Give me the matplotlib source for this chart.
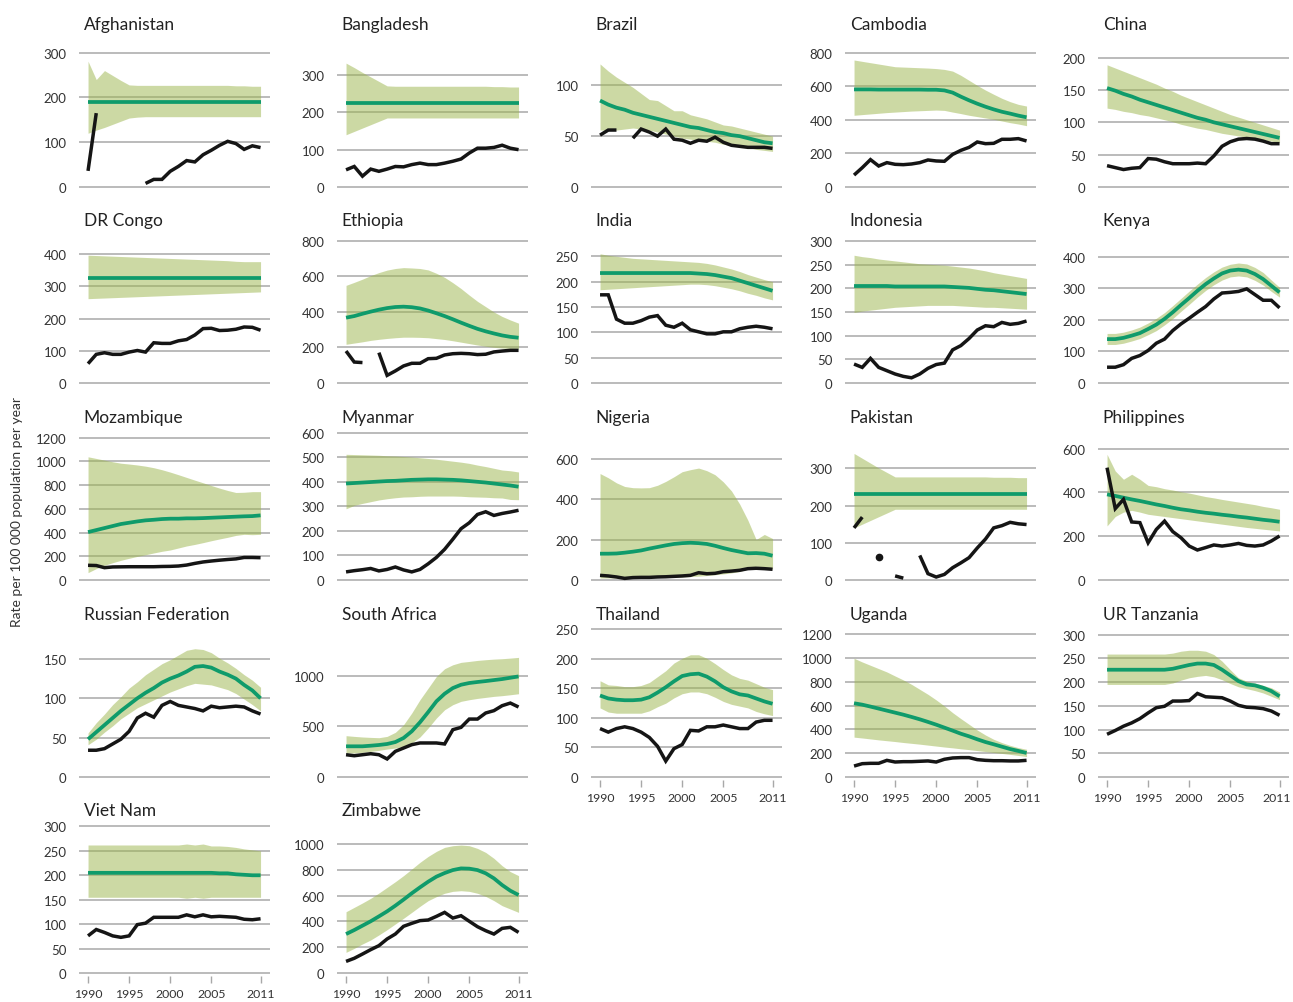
import numpy as np
import matplotlib.pyplot as plt
from matplotlib.transforms import ScaledTranslation

plt.rcParams["font.family"] = ["Lato", "DejaVu Sans"]

# ------------------------------------------------------------
# Data (rate per 100 000 population per year), 1990-2011
# ------------------------------------------------------------
YEARS = np.arange(1990, 2012)
XTICKS = [1990, 1995, 2000, 2005, 2011]
nan = np.nan

COUNTRIES = [
    "Afghanistan", "Bangladesh", "Brazil", "Cambodia", "China",
    "DR Congo", "Ethiopia", "India", "Indonesia", "Kenya",
    "Mozambique", "Myanmar", "Nigeria", "Pakistan", "Philippines",
    "Russian Federation", "South Africa", "Thailand", "Uganda", "UR Tanzania",
    "Viet Nam", "Zimbabwe",
]

# estimated incidence (green line)
EST = {
    "Afghanistan": [190] * 22,
    "Bangladesh": [225] * 22,
    "Brazil": [85, 81, 78, 76, 73, 71, 69, 67, 65, 63, 61, 59, 58, 56, 54, 53, 51, 50, 48, 46, 44, 43],
    "Cambodia": [581, 581, 581, 580, 580, 580, 580, 580, 580, 579, 579, 575, 562, 538, 516, 496, 478, 462, 448, 437, 425, 415],
    "China": [153, 149, 144, 140, 135, 131, 127, 123, 119, 115, 111, 107, 104, 100, 97, 94, 91, 88, 85, 82, 79, 76],
    "DR Congo": [327] * 22,
    "Ethiopia": [368, 377, 390, 402, 413, 422, 428, 430, 427, 420, 408, 393, 377, 359, 340, 322, 305, 291, 279, 268, 260, 255],
    "India": [217] * 12 + [216, 215, 213, 210, 207, 202, 197, 192, 187, 182],
    "Indonesia": [205, 205, 205, 205, 205, 204, 204, 204, 204, 204, 204, 204, 203, 202, 201, 199, 197, 196, 194, 192, 190, 188],
    "Kenya": [139, 139, 143, 150, 158, 171, 185, 203, 224, 247, 269, 292, 313, 331, 347, 356, 359, 356, 345, 329, 308, 287],
    "Mozambique": [404, 421, 438, 455, 472, 483, 494, 503, 508, 514, 517, 517, 520, 520, 522, 525, 528, 531, 534, 537, 539, 545],
    "Myanmar": [393, 395, 397, 399, 401, 403, 404, 406, 408, 409, 410, 410, 409, 408, 406, 403, 400, 397, 393, 389, 385, 380],
    "Nigeria": [130, 130, 131, 135, 140, 146, 155, 163, 171, 178, 182, 184, 182, 178, 169, 158, 148, 140, 132, 133, 130, 120],
    "Pakistan": [231] * 22,
    "Philippines": [391, 384, 376, 368, 361, 353, 345, 338, 330, 323, 318, 312, 307, 303, 298, 294, 289, 285, 280, 275, 271, 266],
    "Russian Federation": [48, 57, 66, 75, 84, 92, 100, 107, 113, 120, 125, 129, 134, 140, 141, 139, 134, 130, 125, 117, 110, 100],
    "South Africa": [303, 303, 303, 309, 316, 326, 345, 385, 451, 540, 641, 747, 822, 878, 911, 928, 938, 947, 957, 967, 980, 993],
    "Thailand": [138, 133, 131, 130, 130, 131, 135, 143, 152, 162, 171, 174, 175, 170, 162, 152, 145, 140, 138, 133, 128, 124],
    "Uganda": [620, 608, 592, 575, 558, 541, 524, 505, 485, 463, 440, 415, 390, 364, 342, 317, 294, 275, 255, 235, 219, 202],
    "UR Tanzania": [226] * 8 + [228, 232, 236, 239, 239, 236, 226, 214, 202, 195, 193, 188, 181, 170],
    "Viet Nam": [205] * 16 + [204, 204, 202, 201, 200, 200],
    "Zimbabwe": [302, 333, 367, 401, 439, 478, 522, 569, 618, 664, 708, 747, 775, 798, 811, 809, 798, 773, 734, 682, 638, 605],
}

# uncertainty band, lower bound
LO = {
    "Afghanistan": [120, 127, 133, 140, 147, 154, 156] + [157] * 15,
    "Bangladesh": [140, 149, 158, 167, 176] + [185] * 17,
    "Brazil": [56, 56, 56, 57, 58, 57, 56, 54, 52, 50, 48, 47, 46, 45, 44, 42, 41, 40, 39, 37, 36, 35],
    "Cambodia": [427, 431, 435, 439, 443, 446, 449, 452, 454, 456, 458, 456, 446, 437, 427, 419, 411, 403, 393, 383, 375, 365],
    "China": [122, 120, 117, 115, 112, 110, 107, 104, 101, 97, 94, 91, 89, 86, 83, 81, 79, 77, 75, 73, 71, 69],
    "DR Congo": [262, 263, 264, 265, 266, 267, 268, 269, 270, 271, 272, 273, 274, 275, 276, 277, 278, 279, 280, 281, 282, 283],
    "Ethiopia": [218, 225, 232, 240, 246, 251, 255, 258, 258, 257, 255, 250, 245, 238, 230, 222, 214, 207, 201, 197, 194, 192],
    "India": [184, 185, 186, 187, 188, 189, 190, 191, 192, 193, 194, 195, 195, 194, 192, 189, 186, 182, 177, 173, 168, 164],
    "Indonesia": [149, 152, 154, 156, 158, 160, 161, 162, 163, 164, 164, 164, 164, 163, 162, 161, 160, 160, 159, 158, 157, 156],
    "Kenya": [122, 122, 126, 133, 141, 153, 166, 184, 204, 227, 249, 272, 293, 311, 326, 336, 339, 336, 325, 310, 290, 272],
    "Mozambique": [62, 96, 124, 146, 166, 183, 199, 213, 228, 242, 253, 270, 287, 300, 315, 331, 346, 360, 376, 385, 382, 385],
    "Myanmar": [290, 304, 312, 319, 326, 331, 335, 338, 339, 341, 342, 342, 342, 342, 341, 339, 338, 337, 335, 334, 328, 327],
    "Nigeria": [10, 10, 10, 10, 10, 10, 11, 12, 13, 14, 15, 17, 19, 22, 26, 30, 35, 42, 55, 68, 62, 55],
    "Pakistan": [140, 150, 160, 170, 180] + [190] * 17,
    "Philippines": [247, 290, 310, 318, 310, 300, 295, 290, 285, 280, 275, 270, 265, 260, 255, 250, 245, 240, 236, 232, 228, 224],
    "Russian Federation": [41, 48, 57, 65, 74, 81, 88, 93, 98, 103, 108, 112, 116, 119, 118, 117, 114, 111, 106, 99, 92, 84],
    "South Africa": [237, 237, 243, 253, 263, 276, 286, 303, 336, 395, 484, 582, 664, 714, 747, 763, 776, 786, 796, 803, 812, 822],
    "Thailand": [117, 110, 108, 108, 108, 108, 112, 119, 125, 134, 141, 144, 144, 141, 135, 128, 123, 120, 117, 111, 107, 104],
    "Uganda": [335, 328, 320, 312, 305, 298, 290, 283, 276, 268, 260, 252, 245, 237, 230, 222, 214, 206, 198, 190, 181, 172],
    "UR Tanzania": [195] * 8 + [198, 204, 209, 212, 214, 211, 205, 197, 190, 186, 182, 177, 170, 163],
    "Viet Nam": [155] * 12 + [153, 155, 153, 155, 155, 155, 155, 155, 155, 155],
    "Zimbabwe": [160, 191, 225, 256, 295, 336, 380, 424, 470, 517, 561, 592, 618, 633, 638, 633, 618, 594, 561, 522, 496, 470],
}

# uncertainty band, upper bound
HI = {
    "Afghanistan": [281, 240, 260, 249, 238, 228, 227, 227, 227, 227, 227, 227, 227, 227, 227, 227, 227, 227, 226, 226, 225, 225],
    "Bangladesh": [332, 320, 307, 295, 283, 271, 270, 270, 270, 270, 270, 270, 270, 270, 270, 270, 270, 270, 269, 269, 268, 268],
    "Brazil": [121, 114, 108, 103, 98, 92, 86, 85, 80, 75, 75, 71, 69, 67, 64, 61, 60, 58, 56, 54, 52, 50],
    "Cambodia": [756, 748, 740, 732, 724, 716, 714, 712, 710, 708, 705, 700, 690, 665, 635, 605, 577, 552, 528, 508, 492, 482],
    "China": [189, 184, 179, 174, 169, 164, 159, 153, 148, 142, 137, 132, 127, 122, 117, 112, 108, 104, 100, 96, 92, 88],
    "DR Congo": [397, 396, 395, 394, 393, 392, 391, 390, 389, 388, 387, 386, 385, 384, 383, 382, 381, 380, 378, 377, 377, 377],
    "Ethiopia": [550, 567, 585, 605, 622, 636, 645, 650, 648, 645, 637, 618, 595, 565, 532, 495, 460, 430, 400, 375, 355, 337],
    "India": [255, 252, 250, 248, 246, 245, 244, 243, 242, 241, 240, 239, 238, 236, 233, 229, 225, 220, 214, 209, 204, 200],
    "Indonesia": [270, 267, 265, 262, 260, 258, 256, 254, 252, 251, 250, 249, 247, 245, 243, 240, 237, 233, 230, 227, 224, 221],
    "Kenya": [157, 157, 161, 168, 177, 190, 205, 223, 245, 268, 291, 313, 334, 352, 367, 376, 380, 377, 366, 350, 326, 303],
    "Mozambique": [1039, 1025, 1011, 997, 985, 978, 970, 960, 947, 930, 910, 888, 865, 842, 820, 797, 775, 755, 738, 740, 745, 745],
    "Myanmar": [512, 511, 510, 509, 508, 506, 505, 503, 501, 498, 495, 492, 488, 484, 480, 475, 468, 462, 455, 448, 445, 440],
    "Nigeria": [526, 505, 480, 462, 456, 455, 456, 468, 487, 510, 535, 545, 553, 540, 520, 485, 440, 375, 295, 200, 225, 205],
    "Pakistan": [340, 327, 314, 301, 289] + [277] * 12 + [276, 276, 276, 275, 275],
    "Philippines": [574, 498, 460, 483, 460, 432, 426, 417, 411, 403, 397, 389, 381, 375, 368, 362, 356, 350, 344, 336, 330, 323],
    "Russian Federation": [56, 69, 80, 92, 102, 113, 121, 130, 137, 144, 149, 155, 161, 163, 162, 158, 151, 145, 138, 130, 123, 114],
    "South Africa": [408, 401, 395, 391, 388, 401, 441, 516, 632, 763, 878, 993, 1069, 1108, 1132, 1141, 1151, 1158, 1164, 1168, 1174, 1181],
    "Thailand": [163, 156, 155, 153, 153, 155, 160, 170, 180, 193, 201, 207, 207, 201, 192, 182, 173, 167, 164, 158, 152, 148],
    "Uganda": [998, 967, 939, 911, 883, 849, 816, 779, 737, 695, 648, 597, 541, 491, 443, 395, 353, 317, 289, 266, 247, 233],
    "UR Tanzania": [259] * 8 + [261, 265, 267, 267, 265, 258, 244, 226, 209, 202, 198, 193, 188, 179],
    "Viet Nam": [262] * 12 + [264, 262, 264, 260, 260, 259, 257, 254, 252, 250],
    "Zimbabwe": [475, 509, 543, 579, 620, 664, 708, 755, 806, 858, 904, 943, 974, 987, 992, 987, 966, 935, 889, 832, 786, 755],
}

# case notifications (black line), nan = no data
NOTIF = {
    "Afghanistan": [36, 165, nan, nan, nan, nan, nan, 8, 17, 17, 35, 46, 59, 56, 72, 82, 93, 102, 97, 84, 92, 88],
    "Bangladesh": [46, 55, 29, 48, 42, 48, 55, 54, 60, 64, 60, 60, 64, 69, 75, 91, 104, 104, 106, 112, 104, 100],
    "Brazil": [51, 56, 56, nan, 48, 57, 54, 50, 57, 47, 46, 43, 46, 45, 49, 44, 41, 40, 39, 39, 39, 38],
    "Cambodia": [71, 115, 163, 125, 145, 135, 133, 137, 145, 161, 155, 153, 194, 218, 236, 268, 258, 260, 284, 284, 288, 274],
    "China": [33, 30, 27, 29, 30, 44, 43, 39, 36, 36, 36, 37, 36, 48, 63, 70, 74, 75, 74, 71, 67, 67],
    "DR Congo": [60, 89, 94, 89, 89, 96, 101, 96, 125, 123, 123, 131, 135, 149, 169, 170, 163, 164, 167, 174, 173, 164],
    "Ethiopia": [180, 118, 115, nan, 171, 43, 68, 96, 111, 111, 137, 139, 158, 165, 167, 165, 160, 162, 175, 180, 184, 184],
    "India": [174, 174, 126, 118, 118, 123, 130, 133, 114, 110, 118, 105, 101, 97, 97, 101, 101, 107, 110, 112, 110, 107],
    "Indonesia": [40, 33, 52, 33, 26, 19, 14, 11, 19, 31, 39, 42, 70, 79, 94, 112, 121, 119, 128, 124, 126, 131],
    "Kenya": [50, 50, 58, 78, 87, 103, 126, 139, 166, 187, 205, 224, 242, 266, 285, 287, 290, 298, 280, 262, 262, 238],
    "Mozambique": [124, 122, 104, 110, 111, 112, 112, 112, 112, 114, 115, 118, 126, 140, 152, 160, 167, 173, 178, 190, 190, 188],
    "Myanmar": [33, 38, 42, 47, 37, 43, 53, 41, 33, 43, 66, 92, 125, 166, 209, 233, 267, 278, 263, 271, 277, 284],
    "Nigeria": [23, 20, 15, 8, 12, 13, 13, 15, 16, 18, 20, 23, 36, 31, 33, 41, 44, 48, 56, 58, 56, 53],
    "Pakistan": [140, 169, nan, 61, nan, 11, 5, nan, 66, 17, 8, 15, 33, 46, 60, 86, 110, 140, 146, 155, 151, 149],
    "Philippines": [513, 326, 368, 265, 262, 170, 231, 269, 221, 193, 155, 137, 148, 160, 155, 160, 167, 158, 155, 160, 178, 201],
    "Russian Federation": [34, 34, 36, 42, 48, 58, 75, 81, 76, 91, 96, 91, 89, 87, 84, 90, 88, 89, 90, 89, 84, 80],
    "South Africa": [220, 210, 220, 230, 220, 178, 253, 286, 319, 336, 336, 336, 326, 467, 490, 572, 572, 632, 655, 704, 730, 691],
    "Thailand": [82, 76, 82, 85, 82, 76, 67, 52, 27, 48, 55, 79, 78, 85, 85, 88, 85, 82, 82, 93, 96, 96],
    "Uganda": [92, 112, 115, 115, 140, 126, 129, 129, 132, 135, 126, 149, 160, 163, 163, 146, 140, 137, 137, 135, 135, 140],
    "UR Tanzania": [90, 98, 107, 114, 123, 135, 146, 149, 160, 160, 161, 176, 169, 168, 167, 160, 151, 147, 146, 144, 139, 130],
    "Viet Nam": [76, 89, 83, 76, 73, 76, 99, 102, 114, 114, 114, 114, 119, 115, 119, 115, 116, 115, 114, 110, 109, 111],
    "Zimbabwe": [90, 114, 147, 181, 212, 264, 302, 362, 385, 406, 411, 439, 470, 426, 444, 401, 359, 328, 302, 346, 354, 315],
}

YTICKS = {
    "Afghanistan": [0, 100, 200, 300],
    "Bangladesh": [0, 100, 200, 300],
    "Brazil": [0, 50, 100],
    "Cambodia": [0, 200, 400, 600, 800],
    "China": [0, 50, 100, 150, 200],
    "DR Congo": [0, 100, 200, 300, 400],
    "Ethiopia": [0, 200, 400, 600, 800],
    "India": [0, 50, 100, 150, 200, 250],
    "Indonesia": [0, 50, 100, 150, 200, 250, 300],
    "Kenya": [0, 100, 200, 300, 400],
    "Mozambique": [0, 200, 400, 600, 800, 1000, 1200],
    "Myanmar": [0, 100, 200, 300, 400, 500, 600],
    "Nigeria": [0, 200, 400, 600],
    "Pakistan": [0, 100, 200, 300],
    "Philippines": [0, 200, 400, 600],
    "Russian Federation": [0, 50, 100, 150],
    "South Africa": [0, 500, 1000],
    "Thailand": [0, 50, 100, 150, 200, 250],
    "Uganda": [0, 200, 400, 600, 800, 1000, 1200],
    "UR Tanzania": [0, 50, 100, 150, 200, 250, 300],
    "Viet Nam": [0, 50, 100, 150, 200, 250, 300],
    "Zimbabwe": [0, 200, 400, 600, 800, 1000],
}

# value at the top of a 150 px high panel (sets each panel's y scale)
YMAX = {
    "Afghanistan": 335, "Bangladesh": 402, "Brazil": 147.5, "Cambodia": 893, "China": 232,
    "DR Congo": 466, "Ethiopia": 845, "India": 296, "Indonesia": 317, "Kenya": 475,
    "Mozambique": 1265, "Myanmar": 611, "Nigeria": 741, "Pakistan": 403, "Philippines": 685,
    "Russian Federation": 190.6, "South Africa": 1481, "Thailand": 254, "Uganda": 1261,
    "UR Tanzania": 316, "Viet Nam": 307, "Zimbabwe": 1163,
}

# ------------------------------------------------------------
# Layout (pixels)
# ------------------------------------------------------------
FIG_W, FIG_H = 1293, 1003
COL_X = [79, 337, 591, 845, 1098]
ROW_ZERO = [188, 384, 581, 778, 974]
AX_W = 191
AX_H = 150
PAD_BOTTOM = 3

BAND_COLOR = "#9bb54b"
EST_COLOR = "#0f9b6b"
NOTIF_COLOR = "#151515"
GRID_COLOR = "#a8a8a8"
TEXT_COLOR = "#333333"

fig = plt.figure(figsize=(FIG_W / 100, FIG_H / 100), dpi=100)

n_cols = 5
for i, name in enumerate(COUNTRIES):
    r, c = divmod(i, n_cols)
    x0 = COL_X[c]
    zero = ROW_ZERO[r]
    left = x0 / FIG_W
    bottom = (FIG_H - zero - PAD_BOTTOM) / FIG_H
    ax = fig.add_axes([left, bottom, AX_W / FIG_W, (AX_H + PAD_BOTTOM) / FIG_H])

    ymax = YMAX[name]
    ax.set_ylim(-ymax * PAD_BOTTOM / AX_H, ymax)
    ax.set_xlim(1988.9, 2012.15)

    lo = np.array(LO[name], dtype=float)
    hi = np.array(HI[name], dtype=float)
    est = np.array(EST[name], dtype=float)
    notif = np.array(NOTIF[name], dtype=float)

    ax.fill_between(YEARS, lo, hi, color=BAND_COLOR, alpha=0.5, lw=0, zorder=2)
    ax.plot(YEARS, est, color=EST_COLOR, lw=2.7, solid_capstyle="butt", zorder=3)
    ax.plot(YEARS, notif, color=NOTIF_COLOR, lw=2.5, solid_capstyle="butt",
            solid_joinstyle="miter", zorder=4, clip_on=False)

    # isolated single-year values show as dots
    valid = ~np.isnan(notif)
    prev_ok = np.r_[False, valid[:-1]]
    next_ok = np.r_[valid[1:], False]
    lone = valid & ~prev_ok & ~next_ok
    if lone.any():
        ax.plot(YEARS[lone], notif[lone], "o", color=NOTIF_COLOR, ms=4.5, zorder=4)

    for s in ax.spines.values():
        s.set_visible(False)

    ax.set_yticks(YTICKS[name])
    ax.set_yticklabels([str(v) for v in YTICKS[name]])
    ax.yaxis.grid(True, color=GRID_COLOR, lw=1.1)
    ax.set_axisbelow(True)
    ax.tick_params(axis="y", length=0, pad=9, labelsize=9.5, labelcolor=TEXT_COLOR)

    is_bottom = (i + n_cols) >= len(COUNTRIES)
    if is_bottom:
        ax.set_xticks(XTICKS)
        ax.set_xticklabels([str(v) for v in XTICKS])
        ax.tick_params(axis="x", length=5, width=1.0, color=GRID_COLOR, pad=3.5,
                       labelsize=8.8, labelcolor=TEXT_COLOR)
        if c == n_cols - 1:
            # keep the last year label inside the figure edge
            last = ax.get_xticklabels()[-1]
            last.set_transform(last.get_transform() + ScaledTranslation(-3 / 100, 0, fig.dpi_scale_trans))
    else:
        ax.set_xticks([])

    ax.text(0.025, (158 + PAD_BOTTOM) / (AX_H + PAD_BOTTOM), name, transform=ax.transAxes,
            ha="left", va="baseline", fontsize=12.5, color="#222222")

fig.text(17 / FIG_W, 1 - 512 / FIG_H, "Rate per 100 000 population per year",
         rotation=90, ha="center", va="center", fontsize=10, color=TEXT_COLOR)

fig.savefig("out.png", dpi=100)
